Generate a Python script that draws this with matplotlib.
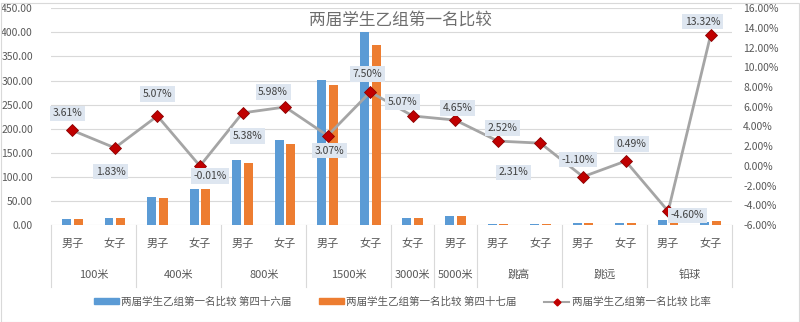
import matplotlib
matplotlib.use("Agg")
import matplotlib.pyplot as plt
import numpy as np
from matplotlib.ticker import FuncFormatter, MultipleLocator
from matplotlib.patches import Rectangle
from matplotlib.lines import Line2D
import matplotlib.transforms as mtransforms

plt.rcParams['font.family'] = ['Noto Sans CJK SC', 'DejaVu Sans']

# ---- data ----
groups = ["100米", "400米", "800米", "1500米", "3000米", "5000米", "跳高", "跳远", "铅球"]
sub_labels = ["男子", "女子", "男子", "女子", "男子", "女子", "男子", "女子",
              "女子", "男子", "男子", "女子", "男子", "女子", "男子", "女子"]
group_sizes = [2, 2, 2, 2, 1, 1, 2, 2, 2]
s46 = [12, 14, 57.5, 74, 136, 176.5, 300.5, 401, 14, 18.5, 1.5, 1.5, 3.5, 3.5, 10, 6]
s47 = [12, 14, 55.5, 75, 129.5, 168, 291, 374.5, 14, 18.5, 1.5, 1.5, 3.5, 3.5, 10.5, 9]
ratio = [3.61, 1.83, 5.07, -0.01, 5.38, 5.98, 3.07, 7.50, 5.07, 4.65, 2.52, 2.31,
         -1.10, 0.49, -4.60, 13.32]
name46 = "两届学生乙组第一名比较 第四十六届"
name47 = "两届学生乙组第一名比较 第四十七届"
name_r = "两届学生乙组第一名比较 比率"
title = "两届学生乙组第一名比较"

# label offsets in pixels (dx, dy up)
lab_off = [(-5, 17), (-4, -24), (0, 22), (10, -10), (5, -23), (-12, 15), (2, -15),
           (-3, 18), (-10, 14), (2, 12), (5, 13), (-27, -29), (-5, 17), (6, 17),
           (19, -4), (-8, 13)]

BLUE = "#5B9BD5"
ORANGE = "#ED7D31"
GRAY = "#A5A5A5"
RED = "#C00000"
TXT = "#595959"
GRID = "#D9D9D9"

W, H = 800, 322
fig = plt.figure(figsize=(W / 100, H / 100), dpi=100)
L, R, T, B = 51, 732, 8.3, 225
ax = fig.add_axes([L / W, (H - B) / H, (R - L) / W, (B - T) / H])
ax2 = ax.twinx()

n = len(sub_labels)
x = np.arange(n)
bw = 0.21
off = 0.137
ax.bar(x - off, s46, bw, color=BLUE, zorder=2, label=name46)
ax.bar(x + off, s47, bw, color=ORANGE, zorder=2, label=name47)
ax.set_xlim(-0.5, n - 0.5)
ax.set_ylim(0, 450)
ax.yaxis.set_major_locator(MultipleLocator(50))
ax.yaxis.set_major_formatter(FuncFormatter(lambda v, p: f"{v:.2f}"))
ax.grid(axis='y', color=GRID, lw=0.8, zorder=0)
ax.set_axisbelow(True)
for sp in ax.spines.values():
    sp.set_visible(False)
for sp in ax2.spines.values():
    sp.set_visible(False)
ax.tick_params(axis='y', length=0, pad=13, labelsize=7.5, labelcolor=TXT)
ax.tick_params(axis='x', length=0, labelbottom=False)

r = np.array(ratio) / 100.0
ax2.plot(x, r, color=GRAY, lw=2.0, zorder=3)
ax2.plot(x, r, ls='none', marker='D', ms=6.2, mfc=RED, mec="#8B0000", mew=0.6, zorder=4)
ax2.set_ylim(-0.06, 0.16)
ax2.yaxis.set_major_locator(MultipleLocator(0.02))
ax2.yaxis.set_major_formatter(FuncFormatter(lambda v, p: f"{v*100:.2f}%"))
ax2.tick_params(axis='y', length=0, pad=8, labelsize=7.5, labelcolor=TXT)

for i, (v, (dx, dy)) in enumerate(zip(ratio, lab_off)):
    ax2.annotate(f"{v:.2f}%", (x[i], v / 100.0), xytext=(dx * 0.72, dy * 0.72),
                 textcoords='offset points', ha='center', va='center', fontsize=7.5,
                 color="#404040", zorder=6,
                 bbox=dict(boxstyle='square,pad=0.25', fc="#DEE6F0", ec='none'))

# multi-level category axis
trans = mtransforms.blended_transform_factory(ax.transData, ax.transAxes)
ah = B - T
y_sub = -(244 - B) / ah
y_grp = -(275 - B) / ah
y_sep = -(287 - B) / ah
for i, s in enumerate(sub_labels):
    ax.text(x[i], y_sub, s, transform=trans, ha='center', va='center',
            fontsize=8, color=TXT)
start = 0
bounds = [-0.5]
for g, sz in zip(groups, group_sizes):
    c = start + (sz - 1) / 2.0
    ax.text(c, y_grp, g, transform=trans, ha='center', va='center',
            fontsize=8, color=TXT)
    start += sz
    bounds.append(start - 0.5)
for b in bounds:
    ax.plot([b, b], [0, y_sep], transform=trans, color=GRID, lw=0.8, clip_on=False)

# title
fig.text(400 / W, 1 - 20 / H, title, ha='center', va='center', fontsize=12,
         color="#6E6E6E", family=['Noto Sans CJK SC', 'DejaVu Sans'])

# legend
handles = [Rectangle((0, 0), 1, 1, color=BLUE), Rectangle((0, 0), 1, 1, color=ORANGE),
           Line2D([], [], color=GRAY, lw=1.5, marker='D', ms=3.5, mfc=RED, mec=RED)]
leg = fig.legend(handles, [name46, name47, name_r], loc='center',
                 bbox_to_anchor=(402 / W, 1 - 302 / H), ncol=3, frameon=False,
                 fontsize=7.6, handlelength=2.4, handleheight=0.5, handletextpad=0.2,
                 columnspacing=2.6, labelcolor=TXT)

# chart border
fig.patches.append(Rectangle((0.5 / W, 0.5 / H), (W - 2) / W, (H - 3) / H,
                             transform=fig.transFigure, fill=False, ec="#D9D9D9", lw=0.8))

fig.savefig("out.png", dpi=100)
